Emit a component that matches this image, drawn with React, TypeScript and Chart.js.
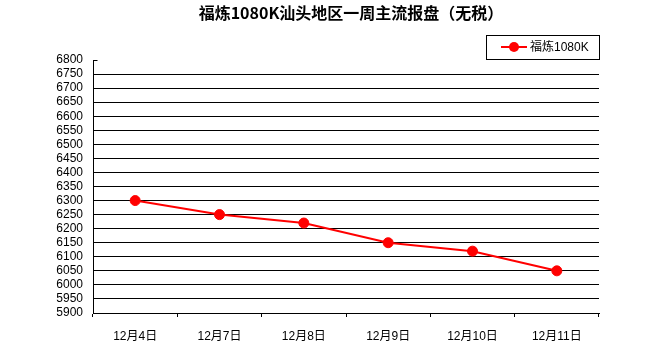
import React, { useEffect, useRef } from "react";
import { Chart, registerables } from "chart.js";

Chart.register(...registerables);

const TITLE = "福炼1080K汕头地区一周主流报盘（无税）";
const SERIES_NAME = "福炼1080K";
const categories = ["12月4日", "12月7日", "12月8日", "12月9日", "12月10日", "12月11日"];
const values = [6300, 6250, 6220, 6150, 6120, 6050];
const Y_MIN = 5900;
const Y_MAX = 6800;
const Y_STEP = 50;

const RED = "#ff0000";
const FONT_FAMILY = "'Liberation Sans', 'Noto Sans CJK SC', sans-serif";

const decorPlugin = {
  id: "decor",
  afterDraw(chart: any) {
    const ctx = chart.ctx as CanvasRenderingContext2D;
    const area = chart.chartArea;
    ctx.save();
    // title
    ctx.fillStyle = "#000";
    ctx.font = "bold 16px 'Noto Sans CJK SC', sans-serif";
    ctx.textAlign = "center";
    ctx.textBaseline = "middle";
    ctx.fillText(TITLE, 351, 13);

    // small tick at top of y axis
    ctx.strokeStyle = "#000";
    ctx.lineWidth = 1;
    ctx.beginPath();
    ctx.moveTo(Math.round(area.left) + 0.5, Math.round(area.top) + 0.5);
    ctx.lineTo(Math.round(area.left) + 4.5, Math.round(area.top) + 0.5);
    ctx.stroke();

    // legend box
    const bx = 486, by = 35, bw = 113, bh = 24;
    ctx.fillStyle = "#fff";
    ctx.fillRect(bx, by, bw, bh);
    ctx.strokeStyle = "#000";
    ctx.lineWidth = 1;
    ctx.strokeRect(bx + 0.5, by + 0.5, bw, bh);
    const cy = by + bh / 2;
    ctx.strokeStyle = RED;
    ctx.lineWidth = 2;
    ctx.beginPath();
    ctx.moveTo(501, cy);
    ctx.lineTo(527, cy);
    ctx.stroke();
    ctx.fillStyle = RED;
    ctx.beginPath();
    ctx.arc(514, cy, 5, 0, Math.PI * 2);
    ctx.fill();
    ctx.fillStyle = "#000";
    ctx.font = "12px " + FONT_FAMILY;
    ctx.textAlign = "left";
    ctx.textBaseline = "middle";
    ctx.fillText(SERIES_NAME, 530, cy + 1);
    ctx.restore();
  },
};

export default function App() {
  const ref = useRef<HTMLCanvasElement | null>(null);

  useEffect(() => {
    if (!ref.current) return;
    const chart = new Chart(ref.current, {
      type: "line",
      data: {
        labels: categories,
        datasets: [
          {
            label: SERIES_NAME,
            data: values,
            borderColor: RED,
            backgroundColor: RED,
            borderWidth: 2,
            pointRadius: 5,
            pointBackgroundColor: RED,
            pointBorderColor: RED,
            pointBorderWidth: 1,
            tension: 0,
          },
        ],
      },
      options: {
        responsive: false,
        animation: false,
        layout: { padding: { left: 0, top: 60, right: 55, bottom: 0 } },
        plugins: {
          legend: { display: false },
          title: { display: false },
          tooltip: { enabled: false },
        },
        scales: {
          x: {
            type: "category",
            offset: true,
            afterFit: (s: any) => {
              s.height = 30;
            },
            grid: {
              offset: true,
              drawOnChartArea: false,
              drawTicks: true,
              tickLength: 4,
              color: "#000",
            },
            border: { display: true, color: "#000", width: 1 },
            ticks: {
              color: "#000",
              padding: 12,
              maxRotation: 0,
              font: { family: FONT_FAMILY, size: 12 },
            },
          },
          y: {
            min: Y_MIN,
            max: Y_MAX,
            afterFit: (s: any) => {
              s.width = 93;
            },
            grid: {
              drawTicks: false,
              color: (c: any) => (c.tick && c.tick.value === Y_MAX ? "rgba(0,0,0,0)" : "#000"),
              lineWidth: 1,
            },
            border: { display: true, color: "#000", width: 1 },
            ticks: {
              stepSize: Y_STEP,
              color: "#000",
              padding: 10,
              autoSkip: false,
              callback: (v: any) => String(v),
              font: { family: FONT_FAMILY, size: 12 },
            },
          },
        },
      },
      plugins: [decorPlugin],
    });
    return () => chart.destroy();
  }, []);

  return (
    <canvas
      ref={ref}
      width={654}
      height={343}
      style={{ position: "fixed", left: 0, top: 0, width: 654, height: 343, background: "#fff" }}
    />
  );
}
